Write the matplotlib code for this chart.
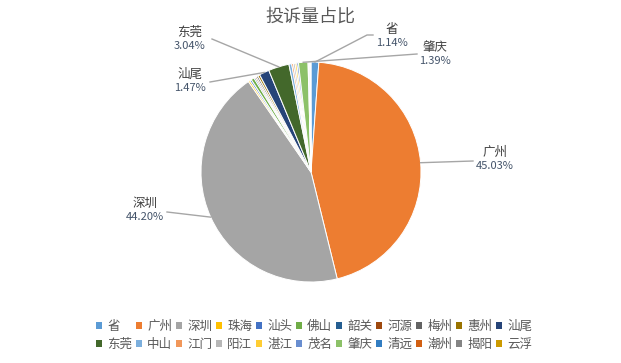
import numpy as np
import matplotlib
matplotlib.use('Agg')
import matplotlib.pyplot as plt
from matplotlib.patches import Patch

plt.rcParams['font.family'] = ['Noto Sans CJK SC', 'DejaVu Sans']

# 数据（百分比）
cities = ['省', '广州', '深圳', '珠海', '汕头', '佛山', '韶关', '河源', '梅州', '惠州', '汕尾',
          '东莞', '中山', '江门', '阳江', '湛江', '茂名', '肇庆', '清远', '潮州', '揭阳', '云浮']
shares = [1.14, 45.03, 44.20, 0.25, 0.25, 0.45, 0.20, 0.20, 0.25, 0.30, 1.47,
          3.04, 0.40, 0.25, 0.25, 0.25, 0.25, 1.39, 0.13, 0.10, 0.10, 0.10]
colors = ['#5B9BD5', '#ED7D31', '#A5A5A5', '#FFC000', '#4472C4', '#70AD47', '#255E91',
          '#9E480E', '#636363', '#997300', '#264478', '#43682B', '#7CAFDD', '#F1975A',
          '#B7B7B7', '#FFCD33', '#698ED0', '#8CC168', '#327DC2', '#D26012', '#848484', '#CC9A00']

# beschriftete Segmente: Name -> Textposition (Pixel), Linienanfang (Pixel)
labelled = {
    '省': ((392, 37), [(373, 35), (367, 35)]),
    '肇庆': ((435, 55), [(417, 54)]),
    '东莞': ((190, 40), [(212, 39)]),
    '汕尾': ((190, 82), [(210, 82)]),
    '广州': ((495, 160), [(473, 161)]),
    '深圳': ((145, 211), [(167, 212)]),
}

W, H = 621, 363
cx, cy, r = 311, 191, 110


def py(y):
    return H - y


fig = plt.figure(figsize=(6.21, 3.63), dpi=100)
ax = fig.add_axes([0, 0, 1, 1])

wedges, _ = ax.pie(shares, colors=colors, startangle=90, counterclock=False,
                   center=(cx, cy), radius=r,
                   wedgeprops=dict(edgecolor='white', linewidth=0.7))
ax.set_xlim(0, W)
ax.set_ylim(0, H)
ax.axis('off')

for i, name in enumerate(cities):
    if name not in labelled:
        continue
    (tx, ty), pts = labelled[name]
    w = wedges[i]
    mid = np.deg2rad((w.theta1 + w.theta2) / 2)
    rim = (cx + r * np.cos(mid), cy + r * np.sin(mid))
    xs = [p[0] for p in pts] + [rim[0]]
    ys = [py(p[1]) for p in pts] + [rim[1]]
    ax.plot(xs, ys, color='#A6A6A6', lw=1)
    ax.text(tx, py(ty) + 1, name, ha='center', va='bottom', fontsize=9, color='#404040')
    ax.text(tx, py(ty) - 1, f'{shares[i]:.2f}%', ha='center', va='top', fontsize=8,
            color='#44546A')

ax.text(310, py(17), '投诉量占比', ha='center', va='center', fontsize=13, color='#595959')

# Legende zeilenweise: matplotlib füllt spaltenweise, also umsortieren
ncol = 11
handles = [Patch(facecolor=c, edgecolor='none') for c in colors]
order = [row * ncol + col for col in range(ncol) for row in range(2)]
fig.legend([handles[k] for k in order], [cities[k] for k in order], loc='center',
           bbox_to_anchor=(314 / W, 1 - 335.5 / H),
           ncol=ncol, frameon=False, fontsize=9, handlelength=0.5, handleheight=0.5,
           handletextpad=0.4, columnspacing=0.3, labelspacing=0.4, labelcolor='#595959',
           borderpad=0)

plt.savefig('out.png', dpi=100)
